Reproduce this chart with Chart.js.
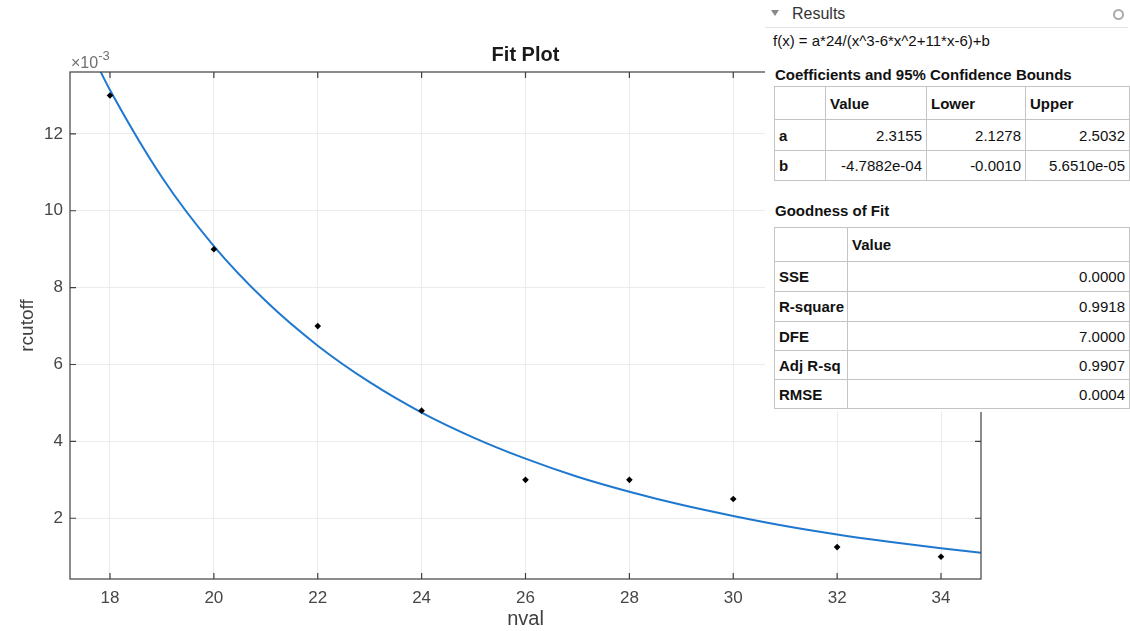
<!DOCTYPE html>
<html>
<head>
<meta charset="utf-8">
<script src="https://cdn.jsdelivr.net/npm/chart.js@4.4.1/dist/chart.umd.min.js"></script>
<style>
    body { margin: 0; background: #fff; font-family: "Liberation Sans", Arial, sans-serif; }
    #wrap { position: relative; width: 1130px; height: 631px; overflow: hidden; }
    #fitChart { position: absolute; left: 0; top: 0; }
    #results { position: absolute; left: 765px; top: 0; width: 365px; height: 412px; background: #fff; color: #111; }
    .hdr { position: absolute; left: 27px; top: 5px; font-size: 16px; color: #333; }
    .tri { position: absolute; left: 6px; top: 10px; width: 0; height: 0;
           border-left: 4px solid transparent; border-right: 4px solid transparent; border-top: 6px solid #888; }
    .ring { position: absolute; left: 348px; top: 9px; width: 7px; height: 7px; border: 2px solid #aaa; border-radius: 50%; }
    .sep { position: absolute; left: 0; top: 27px; width: 363px; height: 1px; background: #e2e2e2; }
    .formula { position: absolute; left: 8px; top: 32px; font-size: 15px; line-height: 18px; }
    .sect { position: absolute; left: 10px; font-size: 15px; line-height: 18px; font-weight: bold; }
    table { position: absolute; left: 9px; border-collapse: collapse; table-layout: fixed; font-size: 15px; background: #fff; }
    td { border: 1px solid #c4c4c4; padding: 0 4px; overflow: hidden; white-space: nowrap; }
    td.lbl { font-weight: bold; text-align: left; }
    td.num { text-align: right; }
    td.head { font-weight: bold; text-align: left; }
    tr.nob td.nt { border-top: none; }
</style>
</head>
<body>
<div id="wrap">
    <canvas id="fitChart" width="1130" height="631"></canvas>
    <div id="results">
        <div class="tri"></div>
        <div class="hdr">Results</div>
        <div class="ring"></div>
        <div class="sep"></div>
        <div class="formula">f(x) = a*24/(x^3-6*x^2+11*x-6)+b</div>
        <div class="sect" style="top: 66px;">Coefficients and 95% Confidence Bounds</div>
        <table style="top: 86px; width: 355px;">
            <colgroup><col style="width:51px"><col style="width:101px"><col style="width:99px"><col style="width:104px"></colgroup>
            <tr style="height:33px"><td></td><td class="head">Value</td><td class="head">Lower</td><td class="head">Upper</td></tr>
            <tr class="nob" style="height:31px"><td class="lbl">a</td><td class="num nt">2.3155</td><td class="num nt">2.1278</td><td class="num nt">2.5032</td></tr>
            <tr style="height:30px"><td class="lbl">b</td><td class="num">-4.7882e-04</td><td class="num">-0.0010</td><td class="num">5.6510e-05</td></tr>
        </table>
        <div class="sect" style="top: 202px;">Goodness of Fit</div>
        <table style="top: 227px; width: 355px;">
            <colgroup><col style="width:73px"><col style="width:282px"></colgroup>
            <tr style="height:34px"><td></td><td class="head">Value</td></tr>
            <tr style="height:30px"><td class="lbl">SSE</td><td class="num">0.0000</td></tr>
            <tr style="height:30px"><td class="lbl">R-square</td><td class="num">0.9918</td></tr>
            <tr style="height:29px"><td class="lbl">DFE</td><td class="num">7.0000</td></tr>
            <tr style="height:29px"><td class="lbl">Adj R-sq</td><td class="num">0.9907</td></tr>
            <tr style="height:29px"><td class="lbl">RMSE</td><td class="num">0.0004</td></tr>
        </table>
    </div>
</div>
<script>
// measured points
const nval = [18, 20, 22, 24, 26, 28, 30, 32, 34];
const rcutoff = [0.013, 0.009, 0.007, 0.0048, 0.003, 0.003, 0.0025, 0.00125, 0.001];

// fitted curve
const fitX = [17.8, 18, 19, 20, 21, 22, 23, 24, 25, 26, 27, 28, 29, 30, 31, 32, 33, 34, 34.77];
const fitY = [0.01367, 0.01314, 0.01087, 0.00908, 0.00765, 0.00649, 0.00554, 0.00475, 0.00410, 0.00355,
              0.00308, 0.00269, 0.00235, 0.00206, 0.00180, 0.00158, 0.00139, 0.00122, 0.00110];

const xTicks = [18, 20, 22, 24, 26, 28, 30, 32, 34];
const yTicks = [0.002, 0.004, 0.006, 0.008, 0.010, 0.012];

const axisColor = '#404040';
const gridColor = '#ebebeb';
const fontFamily = '"Liberation Sans", Arial';

// box around the plot area, inward tick marks and the exponent label
const matlabAxes = {
    id: 'matlabAxes',
    afterDraw(chart) {
        const { ctx, chartArea: a, scales } = chart;
        ctx.save();
        ctx.strokeStyle = axisColor;
        ctx.lineWidth = 1.2;
        ctx.strokeRect(a.left, a.top, a.right - a.left, a.bottom - a.top);
        ctx.beginPath();
        xTicks.forEach(v => {
            const px = scales.x.getPixelForValue(v);
            ctx.moveTo(px, a.bottom); ctx.lineTo(px, a.bottom - 6);
            ctx.moveTo(px, a.top); ctx.lineTo(px, a.top + 6);
        });
        yTicks.forEach(v => {
            const py = scales.y.getPixelForValue(v);
            ctx.moveTo(a.left, py); ctx.lineTo(a.left + 6, py);
            ctx.moveTo(a.right, py); ctx.lineTo(a.right - 6, py);
        });
        ctx.stroke();

        ctx.fillStyle = '#707070';
        ctx.textBaseline = 'alphabetic';
        ctx.font = '16px ' + fontFamily;
        ctx.fillText('\u00d710', a.left + 1, a.top - 4);
        const w = ctx.measureText('\u00d710').width;
        ctx.font = '13px ' + fontFamily;
        ctx.fillText('-3', a.left + 1 + w, a.top - 12);
        ctx.restore();
    }
};

const ctx = document.getElementById('fitChart').getContext('2d');
new Chart(ctx, {
    type: 'scatter',
    data: {
        datasets: [
            {
                label: 'rcutoff vs. nval',
                data: nval.map((x, i) => ({ x: x, y: rcutoff[i] })),
                pointStyle: 'rectRot',
                pointRadius: 3.3,
                backgroundColor: '#000',
                borderColor: '#000',
                borderWidth: 0,
                order: 0
            },
            {
                label: 'fit',
                data: fitX.map((x, i) => ({ x: x, y: fitY[i] })),
                showLine: true,
                pointRadius: 0,
                borderColor: '#1f78cf',
                borderWidth: 2,
                cubicInterpolationMode: 'monotone',
                order: 1
            }
        ]
    },
    options: {
        responsive: false,
        animation: false,
        devicePixelRatio: 1,
        layout: { padding: { left: 0, right: 149, top: 0, bottom: 0 } },
        plugins: {
            legend: { display: false },
            tooltip: { enabled: false },
            title: {
                display: true,
                text: 'Fit Plot',
                fullSize: false,
                color: '#1a1a1a',
                font: { family: fontFamily, size: 20, weight: 'bold' },
                padding: { top: 43, bottom: 5 }
            }
        },
        scales: {
            x: {
                type: 'linear',
                min: 17.23,
                max: 34.77,
                afterBuildTicks: scale => { scale.ticks = xTicks.map(v => ({ value: v })); },
                afterFit: scale => { scale.height = 52; },
                grid: { color: gridColor, drawTicks: false },
                border: { display: false },
                ticks: {
                    padding: 9,
                    color: '#474747',
                    font: { family: fontFamily, size: 17 },
                    callback: v => v
                },
                title: {
                    display: true,
                    text: 'nval',
                    color: '#404040',
                    font: { family: fontFamily, size: 20 },
                    padding: { top: 0, bottom: 0 }
                }
            },
            y: {
                type: 'linear',
                min: 0.00042,
                max: 0.01361,
                afterBuildTicks: scale => { scale.ticks = yTicks.map(v => ({ value: v })); },
                afterFit: scale => { scale.width = 70; },
                grid: { color: gridColor, drawTicks: false },
                border: { display: false },
                ticks: {
                    padding: 7,
                    color: '#474747',
                    font: { family: fontFamily, size: 17 },
                    callback: v => Math.round(v * 1000)
                },
                title: {
                    display: true,
                    text: 'rcutoff',
                    color: '#404040',
                    font: { family: fontFamily, size: 19 },
                    padding: { top: 16, bottom: 0 }
                }
            }
        }
    },
    plugins: [matlabAxes]
});
</script>
</body>
</html>
